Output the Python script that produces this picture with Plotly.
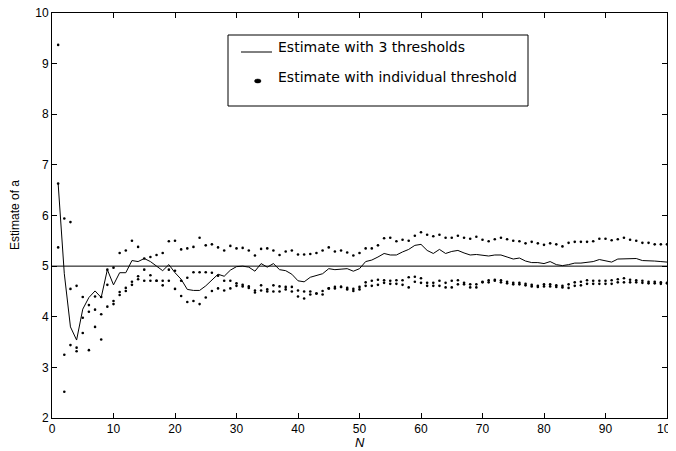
import plotly.graph_objects as go

N = list(range(1, 101))

est_3_thresholds = [
    6.63, 4.85, 3.80, 3.54, 4.15, 4.38, 4.51, 4.38, 4.93, 4.63,
    4.87, 4.87, 5.11, 5.09, 5.15, 5.09, 5.00, 4.91, 5.03, 4.87,
    4.74, 4.54, 4.52, 4.52, 4.61, 4.72, 4.84, 4.80, 4.92, 4.99,
    5.00, 4.98, 4.90, 5.05, 4.98, 5.05, 4.93, 4.91, 4.84, 4.71,
    4.69, 4.78, 4.81, 4.85, 4.95, 4.93, 4.94, 4.95, 4.90, 4.95,
    5.09, 5.12, 5.18, 5.25, 5.22, 5.22, 5.28, 5.33, 5.41, 5.43,
    5.31, 5.25, 5.33, 5.25, 5.29, 5.31, 5.26, 5.22, 5.23, 5.21,
    5.20, 5.22, 5.22, 5.18, 5.14, 5.16, 5.10, 5.07, 5.07, 5.05,
    5.09, 5.03, 5.01, 5.03, 5.06, 5.06, 5.07, 5.09, 5.13, 5.11,
    5.08, 5.14, 5.14, 5.14, 5.15, 5.11, 5.11, 5.10, 5.09, 5.08,
]

indiv_upper = [
    9.37, 5.94, 5.87, 4.61, 4.39, 4.23, 4.40, 4.39, 4.93, 4.97,
    5.26, 5.31, 5.50, 5.38, 5.15, 5.18, 5.22, 5.26, 5.49, 5.50,
    5.33, 5.35, 5.38, 5.56, 5.41, 5.43, 5.37, 5.31, 5.40, 5.35,
    5.36, 5.31, 5.21, 5.34, 5.35, 5.31, 5.22, 5.29, 5.31, 5.23,
    5.23, 5.24, 5.26, 5.31, 5.37, 5.29, 5.31, 5.27, 5.21, 5.26,
    5.35, 5.35, 5.41, 5.55, 5.56, 5.49, 5.52, 5.50, 5.60, 5.67,
    5.62, 5.59, 5.62, 5.56, 5.56, 5.60, 5.56, 5.54, 5.58, 5.52,
    5.49, 5.53, 5.56, 5.53, 5.50, 5.49, 5.45, 5.48, 5.45, 5.42,
    5.45, 5.43, 5.39, 5.46, 5.48, 5.48, 5.48, 5.49, 5.54, 5.54,
    5.51, 5.53, 5.56, 5.52, 5.50, 5.46, 5.46, 5.43, 5.43, 5.43,
]

indiv_middle = [
    6.63, 3.25, 4.55, 3.39, 3.98, 4.10, 4.14, 4.05, 4.63, 4.31,
    4.49, 4.57, 4.69, 4.80, 4.93, 4.82, 4.71, 4.71, 4.93, 4.91,
    4.71, 4.77, 4.88, 4.88, 4.88, 4.87, 4.81, 4.71, 4.71, 4.66,
    4.63, 4.60, 4.52, 4.62, 4.54, 4.62, 4.60, 4.59, 4.59, 4.52,
    4.50, 4.50, 4.46, 4.51, 4.56, 4.59, 4.59, 4.57, 4.55, 4.59,
    4.68, 4.71, 4.73, 4.72, 4.71, 4.72, 4.72, 4.78, 4.79, 4.76,
    4.67, 4.67, 4.71, 4.67, 4.71, 4.72, 4.67, 4.64, 4.64, 4.69,
    4.72, 4.73, 4.72, 4.69, 4.67, 4.67, 4.65, 4.63, 4.61, 4.64,
    4.64, 4.62, 4.61, 4.64, 4.68, 4.69, 4.72, 4.71, 4.71, 4.71,
    4.72, 4.74, 4.76, 4.73, 4.72, 4.71, 4.69, 4.69, 4.68, 4.67,
]

indiv_lower = [
    5.37, 2.52, 3.44, 3.32, 3.68, 3.34, 3.80, 3.55, 4.20, 4.25,
    4.43, 4.51, 4.63, 4.74, 4.71, 4.71, 4.71, 4.62, 4.71, 4.55,
    4.41, 4.29, 4.31, 4.25, 4.38, 4.51, 4.56, 4.52, 4.56, 4.61,
    4.60, 4.57, 4.48, 4.52, 4.50, 4.50, 4.50, 4.54, 4.50, 4.40,
    4.36, 4.44, 4.46, 4.44, 4.56, 4.56, 4.59, 4.54, 4.51, 4.54,
    4.61, 4.61, 4.63, 4.67, 4.65, 4.65, 4.63, 4.58, 4.69, 4.67,
    4.61, 4.61, 4.61, 4.58, 4.58, 4.64, 4.64, 4.58, 4.58, 4.68,
    4.68, 4.71, 4.68, 4.66, 4.64, 4.64, 4.62, 4.60, 4.59, 4.60,
    4.60, 4.59, 4.58, 4.57, 4.61, 4.62, 4.65, 4.65, 4.65, 4.65,
    4.65, 4.68, 4.68, 4.68, 4.68, 4.67, 4.66, 4.66, 4.65, 4.66,
]

TRUE_A = 5
X_RANGE = [0, 100]
Y_RANGE = [2, 10]

# page body has an 8px margin; target plot area on the page: x 52..667, y 13..418
OFF = 8
W, H = 676, 451
PLOT_L, PLOT_R, PLOT_T, PLOT_B = 52, 667, 13, 418
L = PLOT_L - OFF
T = PLOT_T - OFF
R = W - (PLOT_R - OFF)
B = H - (PLOT_B - OFF)
PW, PH = PLOT_R - PLOT_L, PLOT_B - PLOT_T


def px(x):
    return (x - PLOT_L) / PW


def py(y):
    return (PLOT_B - y) / PH


FONT = "Liberation Sans, Arial, Helvetica, sans-serif"
LEG_FONT = "DejaVu Sans, Liberation Sans, Arial, sans-serif"

fig = go.Figure()

fig.add_trace(go.Scatter(
    x=X_RANGE, y=[TRUE_A, TRUE_A], mode="lines",
    line=dict(color="black", width=1), showlegend=False, hoverinfo="skip"))

fig.add_trace(go.Scatter(
    x=N, y=est_3_thresholds, mode="lines",
    line=dict(color="black", width=1), name="Estimate with 3 thresholds",
    showlegend=False))

for ser in (indiv_upper, indiv_middle, indiv_lower):
    fig.add_trace(go.Scatter(
        x=N, y=ser, mode="markers",
        marker=dict(color="black", size=2.6, line=dict(width=0)),
        name="Estimate with individual threshold", showlegend=False))

shapes = [
    dict(type="rect", xref="paper", yref="paper",
         x0=px(228), x1=px(528), y0=py(106), y1=py(35),
         line=dict(color="black", width=1), fillcolor="white", layer="above"),
    dict(type="line", xref="paper", yref="paper",
         x0=px(241), x1=px(272), y0=py(52), y1=py(52),
         line=dict(color="black", width=1), layer="above"),
    dict(type="circle", xref="paper", yref="paper",
         x0=px(254.5), x1=px(261), y0=py(83), y1=py(79),
         line=dict(color="black", width=0.5), fillcolor="black", layer="above"),
]

annotations = [
    dict(text="Estimate with 3 thresholds", xref="paper", yref="paper",
         x=px(276), y=py(47), xanchor="left", yanchor="middle", showarrow=False,
         font=dict(family=LEG_FONT, size=14, color="black")),
    dict(text="Estimate with individual threshold", xref="paper", yref="paper",
         x=px(276), y=py(77), xanchor="left", yanchor="middle", showarrow=False,
         font=dict(family=LEG_FONT, size=14, color="black")),
    dict(text="<i>N</i>", xref="paper", yref="paper",
         x=px(360), y=py(442), xanchor="center", yanchor="middle", showarrow=False,
         font=dict(family=FONT, size=13, color="black")),
    dict(text="Estimate of a", xref="paper", yref="paper", textangle=-90,
         x=px(15), y=py(215), xanchor="center", yanchor="middle", showarrow=False,
         font=dict(family=FONT, size=12, color="black")),
]

fig.update_layout(
    width=W, height=H,
    margin=dict(l=L, r=R, t=T, b=B, pad=0, autoexpand=False),
    paper_bgcolor="white", plot_bgcolor="white",
    font=dict(family=FONT, size=12, color="black"),
    shapes=shapes, annotations=annotations,
    showlegend=False,
    xaxis=dict(range=X_RANGE, dtick=10, tick0=0, showgrid=False, zeroline=False,
               showline=True, mirror="ticks", linecolor="black", linewidth=1,
               ticks="inside", ticklen=5, tickcolor="black", automargin=False,
               ticklabeloverflow="allow", tickfont=dict(size=12)),
    yaxis=dict(range=Y_RANGE, dtick=1, tick0=2, showgrid=False, zeroline=False,
               showline=True, mirror="ticks", linecolor="black", linewidth=1,
               ticks="inside", ticklen=5, tickcolor="black", automargin=False,
               ticklabeloverflow="allow", tickfont=dict(size=12)),
)

fig.write_html("out.html")
